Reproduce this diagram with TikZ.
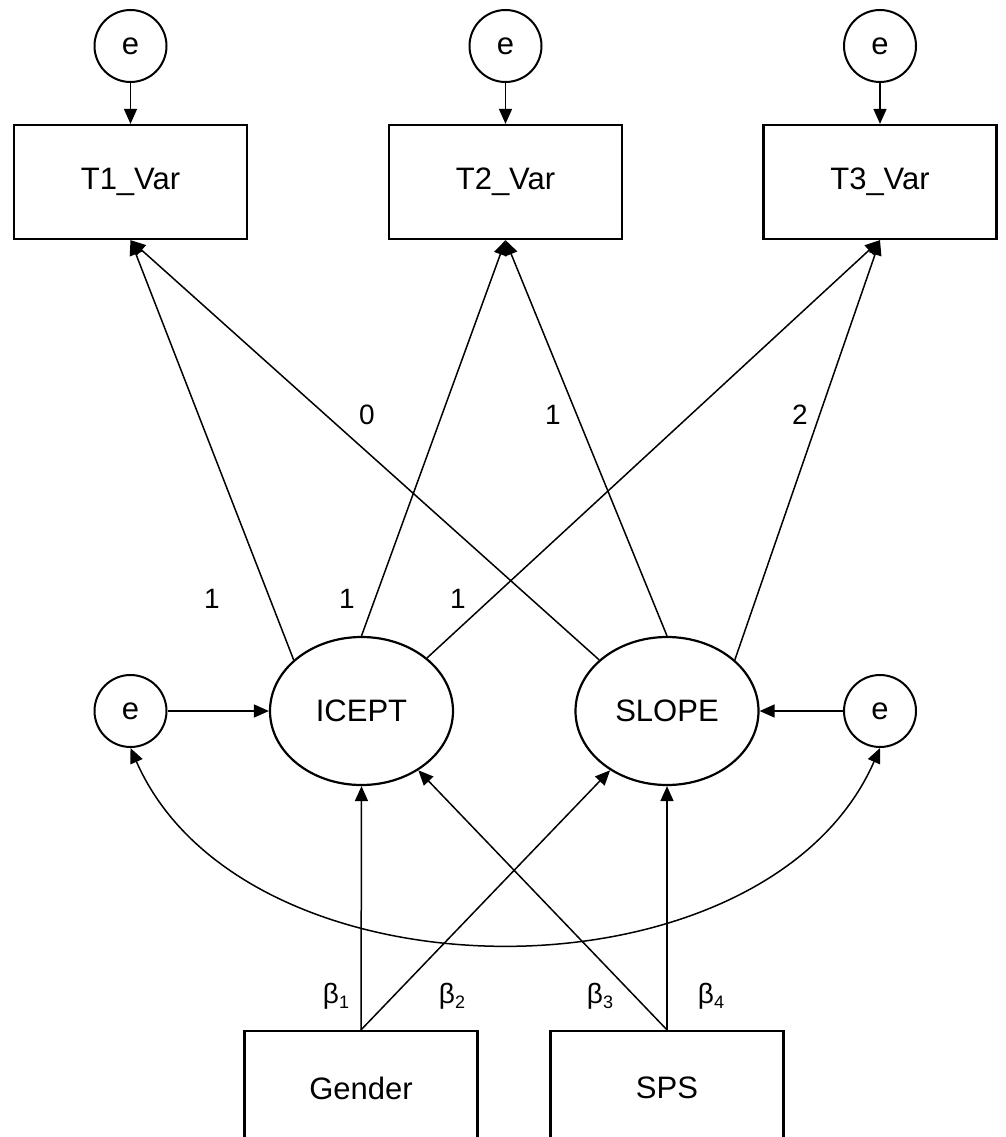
\documentclass[tikz,border=0pt]{standalone}
\usepackage{fontspec}
\setmainfont{Liberation Sans}
\usetikzlibrary{arrows.meta,shapes.geometric}
\begin{document}
\begin{tikzpicture}[x=1pt,y=-1pt,
  every node/.style={font=\fontsize{31}{36}\selectfont},
  obs/.style={draw,line width=2.2pt,minimum width=233pt,minimum height=114pt,inner sep=0pt},
  lat/.style={draw,ellipse,line width=2.2pt,minimum width=183pt,minimum height=148pt,inner sep=0pt},
  err/.style={draw,circle,line width=2pt,minimum size=72pt,inner sep=0pt},
  conn/.style={line width=1.5pt,-{Triangle[length=15pt,width=13pt]}},
  dconn/.style={line width=1.5pt,{Triangle[length=15pt,width=13pt]}-{Triangle[length=15pt,width=13pt]}},
  lbl/.style={font=\fontsize{28}{32}\selectfont,inner sep=0pt},
  beta/.style={font=\fontsize{28}{32}\selectfont,inner sep=0pt}]
\useasboundingbox (0,0) rectangle (1005,1137);
\clip (0,0) rectangle (1005,1137);

% top error terms
\node[err] (e1) at (130.5,46) {e};
\node[err] (e2) at (505.5,46) {e};
\node[err] (e3) at (880,46) {e};

% observed
\node[obs] (T1) at (130.5,182) {T1\_Var};
\node[obs] (T2) at (505.5,182) {T2\_Var};
\node[obs] (T3) at (880,182) {T3\_Var};

% latent
\node[lat] (IC) at (361.5,711) {ICEPT};
\node[lat] (SL) at (667,711) {SLOPE};

% side errors
\node[err] (eL) at (130.5,711) {e};
\node[err] (eR) at (880,711) {e};

% predictors
\node[obs] (G) at (361,1088) {Gender};
\node[obs] (S) at (667,1088) {SPS};

% arrows
\draw[conn] (e1) -- (T1);
\draw[conn] (e2) -- (T2);
\draw[conn] (e3) -- (T3);

\draw[conn] (IC.143) -- (T1.south);
\draw[conn] (IC.90) -- (T2.south);
\draw[conn] (IC.39) -- (T3.south);
\draw[conn] (SL.143) -- (T1.south);
\draw[conn] (SL.90) -- (T2.south);
\draw[conn] (SL.37) -- (T3.south);

\draw[conn] (eL) -- (IC);
\draw[conn] (eR) -- (SL);

\draw[conn] (G.north) -- (IC.south);
\draw[conn] (G.north) -- (SL);
\draw[conn] (S.north) -- (IC);
\draw[conn] (S.north) -- (SL.south);

\draw[dconn] (eL.south) .. controls +(114,260) and +(-114,260) .. (eR.south);

% labels
\node[lbl] (l1) at (212,599) {1};
\node[lbl] (l2) at (347,599) {1};
\node[lbl] (l3) at (458,599) {1};
\node[lbl] (l4) at (367,415) {0};
\node[lbl] (l5) at (553,415) {1};
\node[lbl] (l6) at (800,415) {2};

\node[beta] (b1) at (336,996) {β\raisebox{-0.35ex}{\fontsize{18}{20}\selectfont 1}};
\node[beta] (b2) at (452,996) {β\raisebox{-0.35ex}{\fontsize{18}{20}\selectfont 2}};
\node[beta] (b3) at (600,996) {β\raisebox{-0.35ex}{\fontsize{18}{20}\selectfont 3}};
\node[beta] (b4) at (711,996) {β\raisebox{-0.35ex}{\fontsize{18}{20}\selectfont 4}};
\end{tikzpicture}
\end{document}
